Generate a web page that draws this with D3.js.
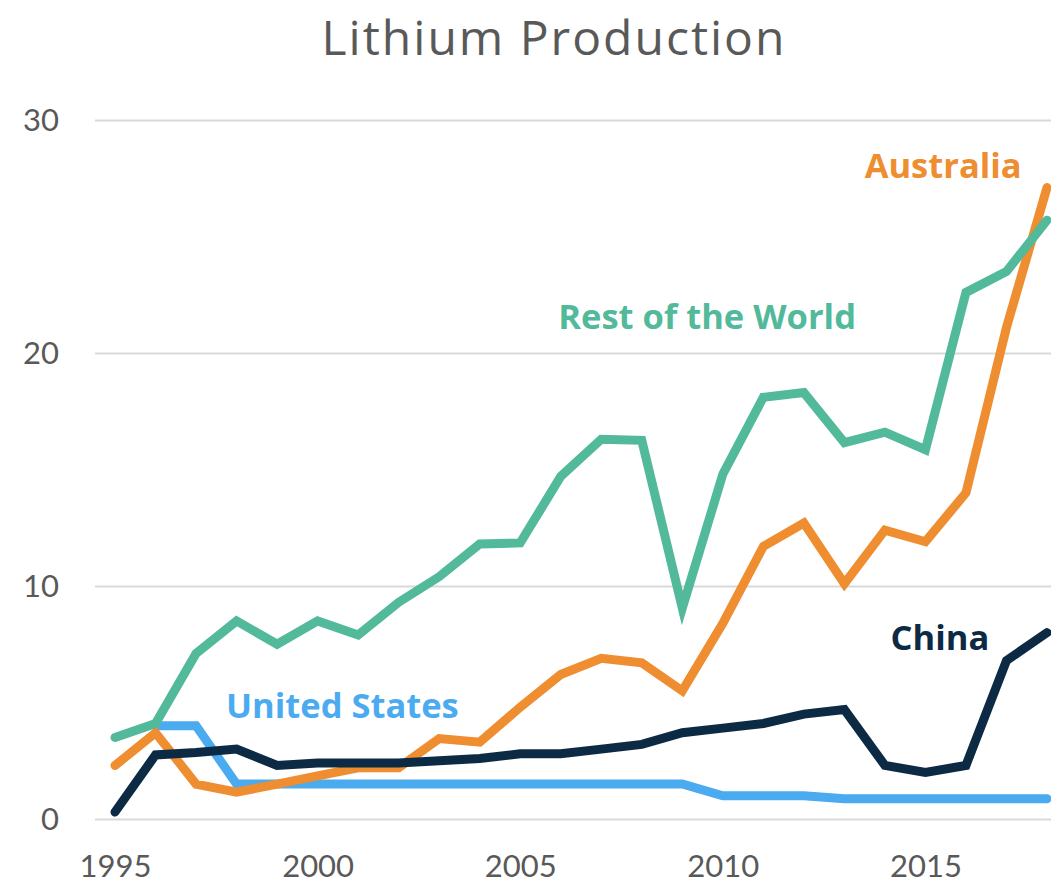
<!DOCTYPE html>
<html>
<head>
<meta charset="utf-8">
<script src="https://cdn.jsdelivr.net/npm/d3@7"></script>
<style>
  body { margin: 0; background: #fff; }
  svg text { font-family: Lato, "Open Sans", sans-serif; }
  svg text.wide { font-family: "Open Sans", Lato, sans-serif; }
</style>
</head>
<body>
<script>
var years = d3.range(1995, 2019);
var restOfWorld = [3.5, 4.1, 7.1, 8.5, 7.5, 8.5, 7.9, 9.3, 10.4, 11.8, 11.85, 14.7, 16.3, 16.25,
                   9.05, 14.8, 18.1, 18.3, 16.15, 16.6, 15.85, 22.6, 23.5, 25.7];
var australia = [2.3, 3.7, 1.5, 1.15, 1.5, 1.85, 2.2, 2.2, 3.45, 3.3, 4.8, 6.2, 6.9, 6.7,
                 5.5, 8.4, 11.7, 12.7, 10.1, 12.4, 11.9, 14.0, 21.1, 27.1];
var china = [0.3, 2.75, 2.85, 3.0, 2.3, 2.4, 2.4, 2.4, 2.5, 2.6, 2.8, 2.8, 3.0, 3.2,
             3.7, 3.9, 4.1, 4.5, 4.7, 2.3, 2.0, 2.3, 6.8, 8.0];
// no US value for 1995
var unitedStates = [null, 4.0, 4.0, 1.5, 1.5, 1.5, 1.5, 1.5, 1.5, 1.5, 1.5, 1.5, 1.5, 1.5,
                    1.5, 1.0, 1.0, 1.0, 0.87, 0.87, 0.87, 0.87, 0.87, 0.87];
var yTicks = [0, 10, 20, 30];
var xTicks = [1995, 2000, 2005, 2010, 2015];

var series = [
    { name: "Rest of the World", values: restOfWorld, color: "#52b99b", lx: 2005.94, ly: 21.05 },
    { name: "Australia", values: australia, color: "#ef8d31", lx: 2013.5, ly: 27.5 },
    { name: "China", values: china, color: "#0d2a44", lx: 2014.14, ly: 7.25 },
    { name: "United States", values: unitedStates, color: "#4babf0", lx: 1997.74, ly: 4.33 }
];
// draw order: US at back, then Australia, China, rest of the world on top
var drawOrder = [3, 1, 2, 0];

var width = 1051, height = 887;
var x = d3.scaleLinear().domain([1995, 2018]).range([115, 1047]);
var y = d3.scaleLinear().domain([0, 30]).range([819, 120]);

var svg = d3.select("body").append("svg")
    .attr("width", width)
    .attr("height", height);

svg.append("text")
    .attr("class", "wide")
    .attr("x", 554)
    .attr("y", 55)
    .attr("text-anchor", "middle")
    .style("font-size", "48px")
    .style("letter-spacing", "2px")
    .style("fill", "#595959")
    .text("Lithium Production");

// gridlines + y labels
var yAxis = svg.append("g")
    .attr("transform", "translate(95,0)")
    .call(d3.axisLeft(y).tickValues(yTicks).tickSize(-(width - 95)).tickPadding(36));
yAxis.select(".domain").remove();
yAxis.selectAll(".tick line").style("stroke", "#d9d9d9").style("stroke-width", 2);
yAxis.selectAll(".tick text")
    .style("font-size", "31px")
    .style("fill", "#595959")
    .attr("dy", "0.35em");

var xAxis = svg.append("g")
    .attr("transform", "translate(0,819)")
    .call(d3.axisBottom(x).tickValues(xTicks).tickSize(0).tickPadding(36).tickFormat(d3.format("d")));
xAxis.select(".domain").remove();
xAxis.selectAll(".tick text")
    .style("font-size", "31px")
    .style("fill", "#595959");

var line = d3.line()
    .defined(function(d) { return d != null; })
    .x(function(d, i) { return x(years[i]); })
    .y(function(d) { return y(d); });

drawOrder.forEach(function(k) {
    var s = series[k];
    svg.append("path")
        .datum(s.values)
        .attr("d", line)
        .style("fill", "none")
        .style("stroke", s.color)
        .style("stroke-width", 9)
        .style("stroke-linejoin", "miter")
        .style("stroke-linecap", "round");
});

svg.selectAll(".label")
    .data(series)
    .enter().append("text")
    .attr("class", "label wide")
    .attr("x", function(d) { return x(d.lx); })
    .attr("y", function(d) { return y(d.ly); })
    .style("font-size", "34.5px")
    .style("font-weight", "bold")
    .style("fill", function(d) { return d.color; })
    .text(function(d) { return d.name; });
</script>
</body>
</html>
